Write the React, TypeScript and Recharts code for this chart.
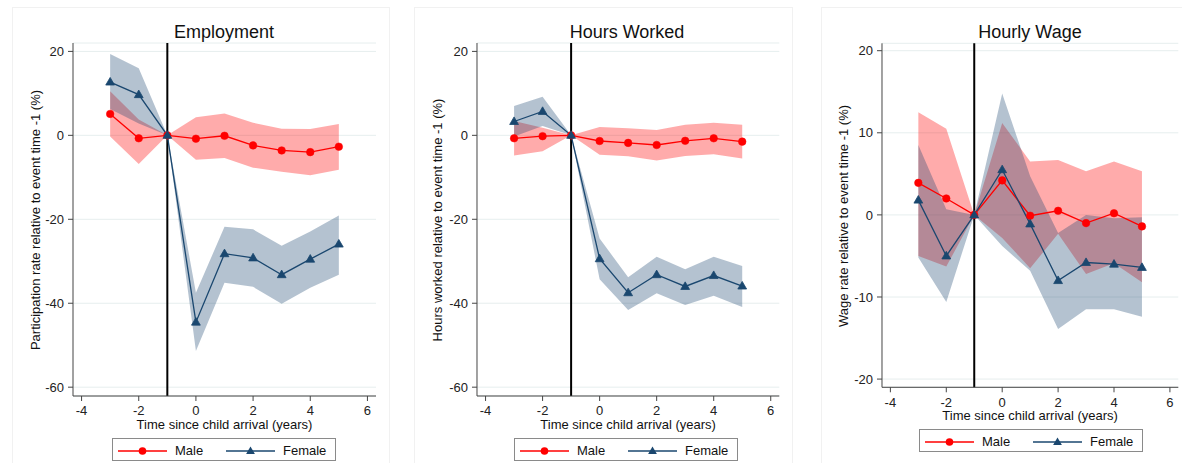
import React from 'react';
import { ComposedChart, Line, Area, XAxis, YAxis, CartesianGrid, ReferenceLine } from 'recharts';

const years = [-3, -2, -1, 0, 1, 2, 3, 4, 5];
const xTicks = [-4, -2, 0, 2, 4, 6];

// Employment
const empMale = [5.1, -0.7, 0, -0.8, -0.1, -2.4, -3.6, -4.0, -2.7];
const empMaleLo = [-0.3, -6.8, 0, -5.8, -5.4, -7.7, -8.7, -9.5, -8.2];
const empMaleHi = [10.5, 3.8, 0, 4.3, 5.2, 3.0, 1.6, 1.5, 2.7];
const empFemale = [12.7, 9.7, 0, -44.5, -28.2, -29.2, -33.2, -29.5, -25.9];
const empFemaleLo = [6.3, 2.8, 0, -51.4, -35.1, -36.1, -40.1, -36.3, -33.2];
const empFemaleHi = [19.4, 16.0, 0, -37.5, -21.8, -22.4, -26.3, -22.9, -19.1];

// Hours worked
const hrsMale = [-0.7, -0.2, 0, -1.35, -1.8, -2.3, -1.3, -0.7, -1.5];
const hrsMaleLo = [-4.8, -3.8, 0, -4.6, -5.0, -6.0, -4.9, -4.5, -5.5];
const hrsMaleHi = [3.4, 1.8, 0, 2.0, 1.7, 1.3, 2.5, 3.0, 2.5];
const hrsFemale = [3.3, 5.7, 0, -29.4, -37.5, -33.2, -36.0, -33.4, -35.9];
const hrsFemaleLo = [-0.3, 2.2, 0, -34.3, -41.6, -37.6, -40.4, -38.2, -40.9];
const hrsFemaleHi = [7.0, 9.2, 0, -24.6, -33.8, -28.9, -31.9, -28.9, -31.1];

// Hourly wage
const wageMale = [3.9, 2.0, 0, 4.2, -0.1, 0.5, -1.0, 0.2, -1.4];
const wageMaleLo = [-5.0, -6.3, 0, -2.8, -6.5, -2.3, -7.2, -5.9, -8.2];
const wageMaleHi = [12.5, 10.5, 0, 11.2, 6.5, 6.7, 5.3, 6.5, 5.3];
const wageFemale = [1.8, -5.0, 0, 5.5, -1.1, -8.0, -5.8, -6.0, -6.4];
const wageFemaleLo = [-5.2, -10.6, 0, -3.8, -6.8, -13.9, -11.5, -11.5, -12.4];
const wageFemaleHi = [8.5, 0.7, 0, 14.8, 4.7, -2.2, 0.0, -0.4, -0.3];

const RED = '#ff0000';
const NAVY = '#1a476f';
const FONT = '"Liberation Sans", Arial, sans-serif';
const X_TITLE = 'Time since child arrival (years)';

function buildRows(m: number[], mLo: number[], mHi: number[], f: number[], fLo: number[], fHi: number[]) {
  return years.map((t, i) => ({
    t,
    male: m[i],
    maleBand: [mLo[i], mHi[i]],
    female: f[i],
    femaleBand: [fLo[i], fHi[i]],
  }));
}

const Triangle = (props: any) => {
  const { cx, cy, index } = props;
  if (cx == null || cy == null) return <g key={`t-${index}`} />;
  return (
    <polygon
      key={`t-${index}`}
      points={`${cx},${cy - 4.6} ${cx - 4.4},${cy + 3} ${cx + 4.4},${cy + 3}`}
      fill={NAVY}
      stroke={NAVY}
      strokeWidth={0.8}
    />
  );
};

function LegendBox({ left, top }: { left: number; top: number }) {
  const txt: React.CSSProperties = { position: 'absolute', top: 3, fontSize: 13, color: '#111', lineHeight: '17px' };
  return (
    <div
      style={{
        position: 'absolute', left, top, width: 224, height: 23,
        border: '1px solid #8a8a8a', background: '#fff', boxSizing: 'border-box',
      }}
    >
      <svg style={{ position: 'absolute', left: 5, top: 2 }} width={50} height={18}>
        <line x1={0} y1={10} x2={49} y2={10} stroke={RED} strokeWidth={1.3} />
        <circle cx={24.5} cy={10} r={3.8} fill={RED} />
      </svg>
      <span style={{ ...txt, left: 62 }}>Male</span>
      <svg style={{ position: 'absolute', left: 113, top: 2 }} width={50} height={18}>
        <line x1={0} y1={10} x2={49} y2={10} stroke={NAVY} strokeWidth={1.3} />
        <polygon points="24.5,5.4 20.1,13 28.9,13" fill={NAVY} />
      </svg>
      <span style={{ ...txt, left: 170 }}>Female</span>
    </div>
  );
}

type PanelProps = {
  title: string;
  yLabel: string;
  rows: any[];
  yDomain: [number, number];
  yTicks: number[];
  chartLeft: number;
  chartWidth: number;
  plotTop: number;
  plotHeight: number;
  rightMargin: number;
  titleX: number;
  yLabelX: number;
  yLabelY: number;
  legendLeft: number;
  legendTop: number;
  frameLeft: number;
  frameWidth: number;
};

function Panel(p: PanelProps) {
  const xAxisH = 36;
  const height = p.plotTop + p.plotHeight + xAxisH;
  const tick = { fill: '#222', fontSize: 13, fontFamily: FONT };
  return (
    <>
      <div
        style={{
          position: 'absolute', left: p.frameLeft, top: 7, width: p.frameWidth, height: 470,
          border: '1px solid #f1f1f1', boxSizing: 'border-box',
        }}
      />
      <div style={{ position: 'absolute', left: p.chartLeft, top: 0 }}>
        <ComposedChart
          width={p.chartWidth}
          height={height}
          data={p.rows}
          margin={{ top: p.plotTop, right: p.rightMargin, left: 0, bottom: 0 }}
        >
          <CartesianGrid vertical={false} stroke="#e6eeee" strokeWidth={1} />
          <XAxis
            type="number"
            dataKey="t"
            domain={[-4.3, 6.3]}
            ticks={xTicks}
            allowDataOverflow
            height={xAxisH}
            tick={tick}
            tickSize={5}
            tickMargin={5}
            stroke="#444"
            label={{ value: X_TITLE, position: 'insideBottom', offset: 3, fill: '#111', fontSize: 13, fontFamily: FONT }}
          />
          <YAxis
            type="number"
            domain={p.yDomain}
            ticks={p.yTicks}
            allowDataOverflow
            width={43}
            tick={tick}
            tickSize={5}
            tickMargin={4}
            stroke="#444"
          />
          <Area
            type="linear"
            dataKey="maleBand"
            stroke="none"
            fill={RED}
            fillOpacity={0.33}
            isAnimationActive={false}
            activeDot={false}
          />
          <Area
            type="linear"
            dataKey="femaleBand"
            stroke="none"
            fill={NAVY}
            fillOpacity={0.33}
            isAnimationActive={false}
            activeDot={false}
          />
          <ReferenceLine x={-1} stroke="#000" strokeWidth={2} />
          <Line
            type="linear"
            dataKey="male"
            stroke={RED}
            strokeWidth={1.3}
            dot={{ r: 3.8, fill: RED, stroke: RED, strokeWidth: 0.5 }}
            activeDot={false}
            isAnimationActive={false}
          />
          <Line
            type="linear"
            dataKey="female"
            stroke={NAVY}
            strokeWidth={1.3}
            dot={Triangle}
            activeDot={false}
            isAnimationActive={false}
          />
        </ComposedChart>
      </div>
      <div
        style={{
          position: 'absolute', left: p.titleX, top: 31.5, transform: 'translate(-50%, -50%)',
          fontSize: 18, color: '#111', whiteSpace: 'nowrap',
        }}
      >
        {p.title}
      </div>
      <div
        style={{
          position: 'absolute', left: p.yLabelX, top: p.yLabelY,
          transform: 'translate(-50%, -50%) rotate(-90deg)',
          fontSize: 13, color: '#111', whiteSpace: 'nowrap',
        }}
      >
        {p.yLabel}
      </div>
      <LegendBox left={p.legendLeft} top={p.legendTop} />
    </>
  );
}

export default function App() {
  const bigTicks = [20, 0, -20, -40, -60];
  const wageTicks = [20, 10, 0, -10, -20];
  return (
    <div
      style={{
        position: 'absolute', left: 0, top: 0, width: 1182, height: 463,
        background: '#fff', overflow: 'hidden', fontFamily: FONT,
      }}
    >
      <Panel
        title="Employment"
        yLabel="Participation rate relative to event time -1 (%)"
        rows={buildRows(empMale, empMaleLo, empMaleHi, empFemale, empFemaleLo, empFemaleHi)}
        yDomain={[-62.1, 22]}
        yTicks={bigTicks}
        chartLeft={30}
        chartWidth={356}
        plotTop={43}
        plotHeight={353}
        rightMargin={10}
        titleX={224}
        yLabelX={35}
        yLabelY={219.5}
        legendLeft={112}
        legendTop={438}
        frameLeft={12}
        frameWidth={378}
      />
      <Panel
        title="Hours Worked"
        yLabel="Hours worked relative to event time -1 (%)"
        rows={buildRows(hrsMale, hrsMaleLo, hrsMaleHi, hrsFemale, hrsFemaleLo, hrsFemaleHi)}
        yDomain={[-62.1, 22]}
        yTicks={bigTicks}
        chartLeft={433.7}
        chartWidth={355.3}
        plotTop={43}
        plotHeight={353}
        rightMargin={10}
        titleX={627}
        yLabelX={437}
        yLabelY={219.5}
        legendLeft={514}
        legendTop={438}
        frameLeft={414}
        frameWidth={379}
      />
      <Panel
        title="Hourly Wage"
        yLabel="Wage rate relative to event time -1 (%)"
        rows={buildRows(wageMale, wageMaleLo, wageMaleHi, wageFemale, wageFemaleLo, wageFemaleHi)}
        yDomain={[-21, 20.9]}
        yTicks={wageTicks}
        chartLeft={838.7}
        chartWidth={343.3}
        plotTop={43.3}
        plotHeight={344}
        rightMargin={4}
        titleX={1030}
        yLabelX={843}
        yLabelY={215.5}
        legendLeft={919}
        legendTop={429}
        frameLeft={821}
        frameWidth={400}
      />
    </div>
  );
}
